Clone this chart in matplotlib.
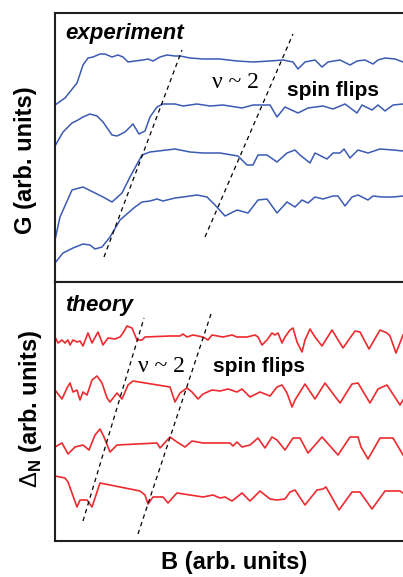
import numpy as np
import matplotlib
matplotlib.use('Agg')
from matplotlib import pyplot as plt

# top panel: measured conductance, four traces (B, G in arb. units)
exp1_b = [0, 10, 22, 28, 33, 38, 45, 50, 57, 63, 68, 73, 80, 88, 93, 98, 105, 112, 120, 125, 135, 148, 165, 182,
          198, 215, 228, 238, 243, 250, 260, 267, 273, 285, 295, 302, 310, 318, 323, 330, 340, 348]
exp1_g = [177, 184, 199, 217, 224, 225, 228, 228, 225, 227, 225, 220, 221, 222, 223, 221, 225, 227, 226, 226, 224, 223, 223, 221,
          220, 221, 222, 220, 213, 220, 222, 215, 220, 222, 217, 221, 222, 218, 222, 224, 223, 220]

exp2_b = [0, 8, 17, 23, 28, 35, 42, 48, 57, 62, 70, 78, 84, 90, 95, 102, 108, 120, 128, 142, 155, 168, 187, 198, 215,
          222, 230, 243, 253, 268, 278, 290, 302, 307, 317, 323, 330, 338, 348]
exp2_g = [136, 150, 159, 162, 165, 168, 166, 160, 147, 146, 150, 158, 148, 151, 165, 175, 178, 178, 176, 178, 176, 177, 174, 177, 177,
          165, 175, 169, 174, 176, 173, 178, 169, 177, 172, 177, 171, 177, 178]

exp3_b = [0, 5, 17, 28, 40, 48, 57, 67, 75, 87, 95, 120, 135, 148, 165, 183, 192, 198, 203, 212, 222, 232, 240, 245,
          255, 260, 272, 278, 285, 289, 295, 303, 313, 325, 338, 348]
exp3_g = [42, 65, 92, 95, 89, 85, 80, 89, 105, 127, 130, 133, 130, 129, 129, 126, 117, 117, 127, 127, 120, 129, 132, 127,
          119, 129, 123, 129, 129, 133, 124, 132, 129, 133, 132, 131]

exp4_b = [0, 8, 18, 28, 35, 40, 47, 55, 65, 73, 80, 87, 95, 102, 108, 120, 128, 142, 152, 160, 170, 182, 193, 203, 212,
          222, 232, 240, 247, 253, 260, 268, 278, 283, 290, 297, 303, 313, 318, 327, 338, 348]
exp4_g = [19, 29, 34, 38, 37, 33, 35, 45, 62, 69, 75, 80, 81, 83, 81, 84, 85, 87, 85, 77, 66, 72, 69, 82, 83,
          69, 80, 75, 82, 79, 85, 83, 86, 86, 76, 85, 87, 82, 86, 85, 85, 86]

# bottom panel: computed Delta_N, four traces
th1_b = [0, 3, 7, 10, 13, 15, 18, 22, 25, 28, 33, 37, 43, 48, 53, 60, 65, 68, 72, 77, 82, 87, 90, 115, 125, 128, 132,
         138, 148, 153, 157, 168, 177, 182, 192, 200, 203, 207, 212, 217, 220, 223, 227, 230, 235, 238, 242, 247,
         250, 255, 260, 267, 277, 288, 300, 305, 314, 325, 332, 335, 341, 348]
th1_d = [204, 198, 201, 198, 201, 196, 201, 199, 200, 195, 208, 198, 209, 196, 203, 202, 204, 208, 215, 213, 201, 201, 204, 205, 205, 207, 204,
         206, 204, 201, 206, 204, 206, 204, 204, 206, 204, 196, 201, 208, 206, 208, 198, 204, 211, 213, 199, 189,
         201, 212, 204, 195, 211, 193, 210, 209, 192, 211, 208, 205, 188, 206]

th2_b = [0, 7, 12, 15, 18, 22, 25, 28, 32, 37, 42, 47, 52, 55, 62, 67, 73, 78, 115, 120, 125, 132, 137, 143, 148, 157,
         165, 173, 182, 187, 195, 205, 215, 222, 227, 232, 237, 240, 250, 260, 270, 285, 297, 303, 315, 323, 332, 345, 348]
th2_d = [151, 142, 153, 158, 149, 151, 141, 149, 146, 161, 165, 158, 143, 139, 148, 142, 156, 160, 154, 139, 148, 153, 149, 142, 147, 151,
         150, 152, 149, 152, 144, 149, 145, 154, 156, 148, 134, 141, 157, 142, 158, 138, 157, 158, 138, 152, 156, 136, 141]

th3_b = [0, 7, 13, 20, 28, 34, 40, 45, 49, 55, 62, 102, 105, 115, 122, 130, 137, 148, 165, 175, 178, 182, 187, 195,
         203, 210, 217, 222, 230, 238, 245, 253, 267, 283, 295, 303, 306, 313, 325, 338, 348]
th3_d = [94, 98, 87, 94, 96, 91, 106, 112, 104, 89, 96, 98, 93, 104, 99, 94, 100, 98, 98, 98, 95, 99, 94, 96,
         103, 93, 104, 101, 91, 103, 103, 88, 104, 86, 104, 104, 94, 82, 103, 103, 86]

th4_b = [0, 10, 13, 22, 25, 32, 37, 45, 85, 90, 93, 98, 108, 113, 120, 122, 135, 148, 158, 165, 170, 177, 187, 195,
         205, 215, 222, 230, 235, 240, 250, 262, 268, 271, 284, 297, 305, 317, 330, 345, 348]
th4_d = [65, 63, 59, 34, 41, 41, 34, 58, 50, 46, 37, 44, 44, 38, 46, 48, 46, 44, 46, 43, 44, 40, 48, 40,
         50, 42, 41, 42, 49, 51, 36, 51, 52, 54, 31, 49, 49, 32, 50, 50, 48]

# guide lines (nu ~ 2 and spin-flip onset)
exp_guide1_b, exp_guide1_g = [49, 127], [25, 232]
exp_guide2_b, exp_guide2_g = [150, 238], [45, 248]
th_guide1_b, th_guide1_d = [28, 89], [20, 223]
th_guide2_b, th_guide2_d = [83, 156], [7, 227]

blue = '#3b5ab4'
red = '#ee2a2e'
sans = 'Liberation Sans'
plt.rcParams['font.family'] = [sans, 'DejaVu Sans']
plt.rcParams['mathtext.fontset'] = 'custom'
plt.rcParams['mathtext.rm'] = sans
plt.rcParams['mathtext.bf'] = sans + ':bold'

fig = plt.figure(figsize=(4.03, 5.77), dpi=100)
W, H = 403.0, 577.0
ax1 = fig.add_axes([55 / W, 1 - 282 / H, 348 / W, 269 / H])
ax2 = fig.add_axes([55 / W, 1 - 541 / H, 348 / W, 259 / H])

for b, g in [(exp1_b, exp1_g), (exp2_b, exp2_g), (exp3_b, exp3_g), (exp4_b, exp4_g)]:
    ax1.plot(b, g, color=blue, lw=1.1)
for b, d in [(th1_b, th1_d), (th2_b, th2_d), (th3_b, th3_d), (th4_b, th4_d)]:
    ax2.plot(b, d, color=red, lw=1.2)

dash = (0, (3.5, 3))
ax1.plot(exp_guide1_b, exp_guide1_g, color='black', lw=0.9, linestyle=dash)
ax1.plot(exp_guide2_b, exp_guide2_g, color='black', lw=0.9, linestyle=dash)
ax2.plot(th_guide1_b, th_guide1_d, color='black', lw=0.9, linestyle=dash)
ax2.plot(th_guide2_b, th_guide2_d, color='black', lw=0.9, linestyle=dash)

ax1.set_xlim(0, 348)
ax1.set_ylim(0, 269)
ax2.set_xlim(0, 348)
ax2.set_ylim(0, 259)

for ax in (ax1, ax2):
    ax.set_xticks([])
    ax.set_yticks([])
    ax.spines['right'].set_visible(False)
    for s in ('left', 'top', 'bottom'):
        ax.spines[s].set_linewidth(1.5)
        ax.spines[s].set_color('#231f20')

ax1.text(10, 248, 'experiment', fontsize=16, fontweight='bold', fontstyle='italic', va='center')
ax1.text(157, 199, 'ν ~ 2', fontsize=17, family='Liberation Serif', va='center')
ax1.text(232, 192, 'spin flips', fontsize=15, fontweight='bold', va='center')

ax2.text(10, 236, 'theory', fontsize=16, fontweight='bold', fontstyle='italic', va='center')
ax2.text(83, 175, 'ν ~ 2', fontsize=17, family='Liberation Serif', va='center')
ax2.text(158, 174, 'spin flips', fontsize=15, fontweight='bold', va='center')

fig.text(26 / W, 1 - 160 / H, 'G (arb. units)', fontsize=17, fontweight='bold',
         rotation=90, ha='center', va='center')
fig.text(31 / W, 1 - 409 / H, r'$\Delta_{\mathbf{N}}$ (arb. units)', fontsize=17, fontweight='bold',
         rotation=90, ha='center', va='center')
fig.text(234 / W, 1 - 563 / H, 'B (arb. units)', fontsize=17, fontweight='bold',
         ha='center', va='center')

fig.savefig('out.png', dpi=100)
